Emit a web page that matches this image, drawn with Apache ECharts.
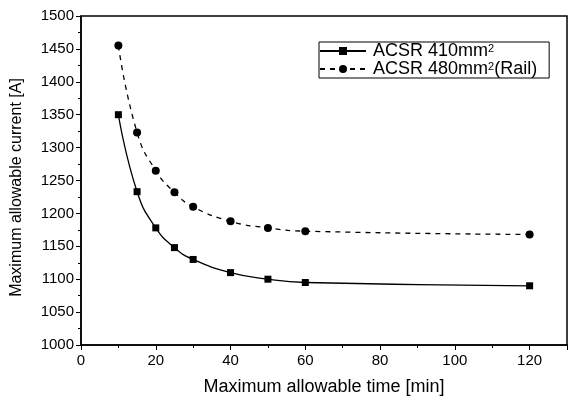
<!DOCTYPE html>
<html>
<head>
<meta charset="utf-8">
<script src="https://cdn.jsdelivr.net/npm/echarts@6/dist/echarts.min.js"></script>
<style>
  html, body { margin: 0; padding: 0; background: #fff; }
  #chart { width: 568px; height: 401px; }
</style>
</head>
<body>
<div id="chart"></div>
<script>
// time values [min]
const times = [10, 15, 20, 25, 30, 40, 50, 60, 120];
// maximum allowable current [A]
const acsr410 = [1350, 1233, 1178, 1148, 1130, 1110, 1100, 1095, 1090];
const acsr480 = [1455, 1323, 1265, 1232, 1210, 1188, 1178, 1173, 1168];
const seriesNames = ['ACSR 410mm{sup|2}', 'ACSR 480mm{sup|2}(Rail)'];

const font = 'Liberation Sans, Arial, sans-serif';
const pairs = (ys) => times.map((t, i) => [t, ys[i]]);

const chart = echarts.init(document.getElementById('chart'));
chart.setOption({
    animation: false,
    backgroundColor: '#fff',
    grid: {
        left: 81, top: 16, right: 1, bottom: 56,
        outerBoundsMode: 'none', containLabel: false,
        show: true, borderColor: '#000', borderWidth: 1.5
    },
    legend: {
        orient: 'vertical',
        left: 319, top: 42,
        itemWidth: 46, itemHeight: 10, itemGap: 0,
        padding: [0, 12, 0, 0],
        borderColor: '#000', borderWidth: 1,
        textStyle: {
            fontFamily: font, fontSize: 18, lineHeight: 16, color: '#000', padding: [0, 0, 0, 2],
            rich: { sup: { fontFamily: font, fontSize: 11, lineHeight: 16, verticalAlign: 'top', padding: [0, 0, 4, 0], color: '#000' } }
        },
        data: seriesNames
    },
    xAxis: {
        type: 'value', min: 0, max: 130, interval: 20,
        name: 'Maximum allowable time [min]', nameLocation: 'middle', nameGap: 33,
        nameTextStyle: { fontFamily: font, fontSize: 18, color: '#000' },
        axisLine: { lineStyle: { color: '#000', width: 1.5 } },
        axisTick: { show: true, length: 5, lineStyle: { color: '#000' } },
        minorTick: { show: true, splitNumber: 2, length: 3, lineStyle: { color: '#000' } },
        axisLabel: { fontFamily: font, fontSize: 15, color: '#000', margin: 8, showMaxLabel: false },
        splitLine: { show: false }
    },
    yAxis: {
        type: 'value', min: 1000, max: 1500, interval: 50,
        name: 'Maximum allowable current [A]', nameLocation: 'middle', nameGap: 56,
        nameTextStyle: { fontFamily: font, fontSize: 16, color: '#000', padding: [0, 14, 0, 0] },
        axisLine: { show: true, lineStyle: { color: '#000', width: 1.5 } },
        axisTick: { show: true, length: 5, lineStyle: { color: '#000' } },
        minorTick: { show: true, splitNumber: 2, length: 3, lineStyle: { color: '#000' } },
        axisLabel: { fontFamily: font, fontSize: 15, color: '#000', margin: 7, formatter: v => String(v) },
        splitLine: { show: false }
    },
    series: [
        {
            name: seriesNames[0], type: 'line', data: pairs(acsr410),
            smooth: 0.5,
            symbol: 'rect', symbolSize: 7,
            itemStyle: { color: '#000' },
            lineStyle: { color: '#000', width: 1.3, type: 'solid' }
        },
        {
            name: seriesNames[1], type: 'line', data: pairs(acsr480),
            smooth: 0.5,
            symbol: 'circle', symbolSize: 8,
            itemStyle: { color: '#000' },
            lineStyle: { color: '#000', width: 1.3, type: [5, 5] }
        }
    ]
});
</script>
</body>
</html>
